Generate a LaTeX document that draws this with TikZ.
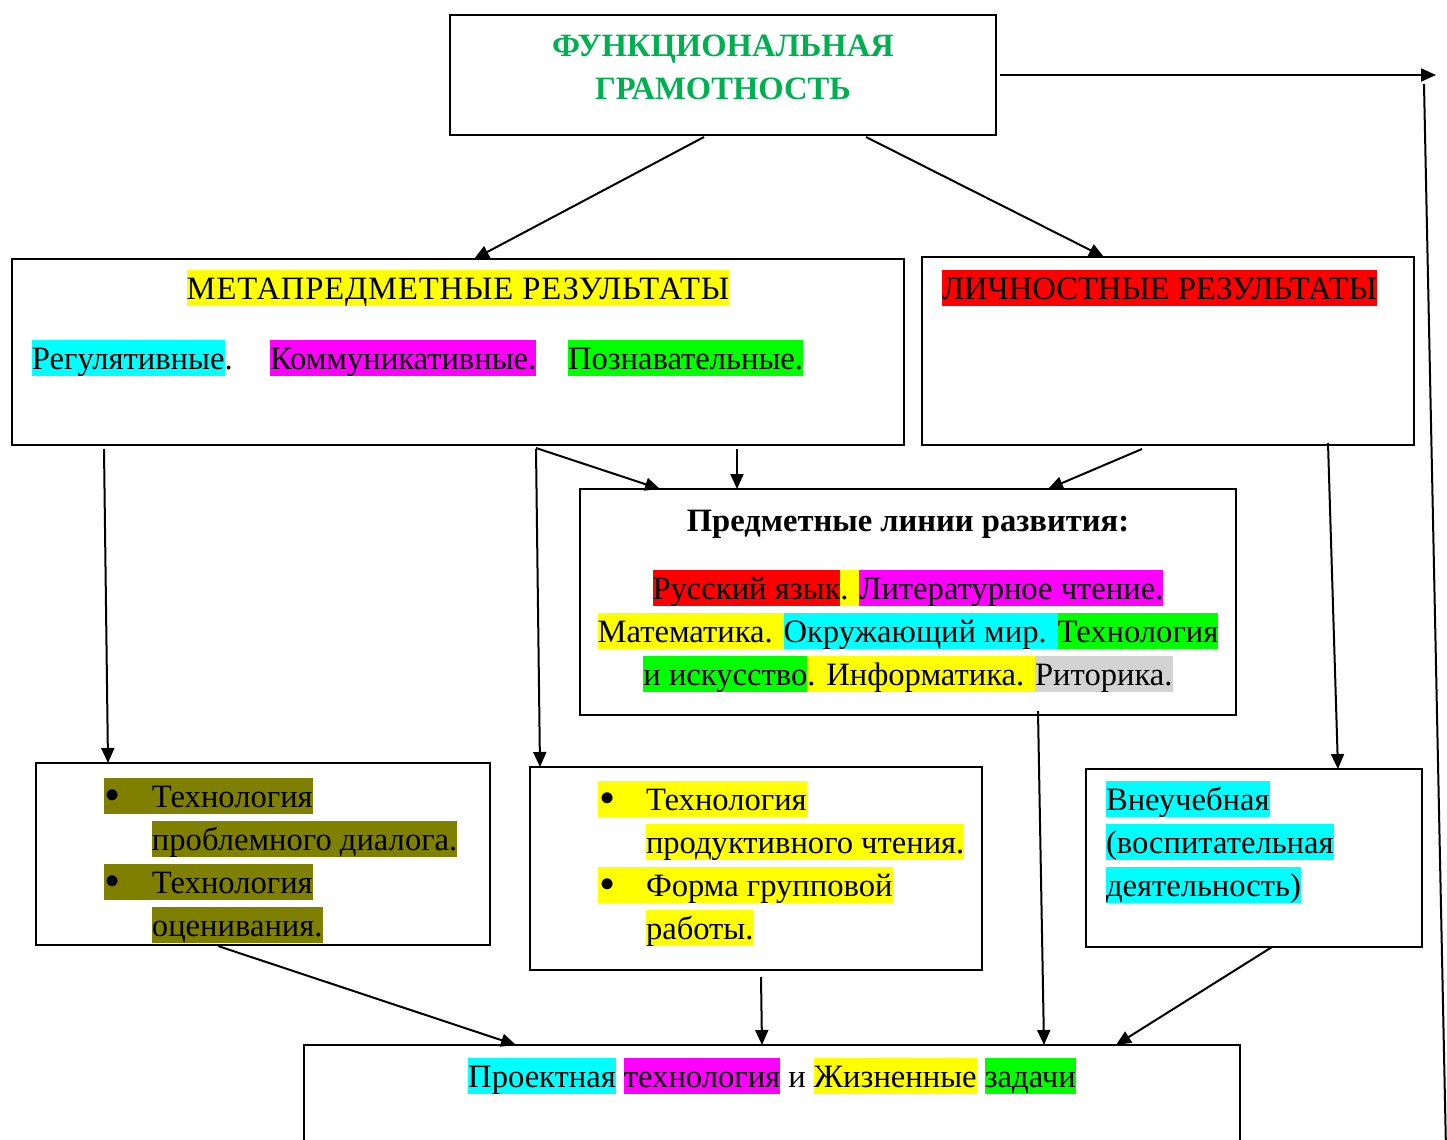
\documentclass[tikz,border=0pt]{standalone}
\usepackage{fontspec}
\setmainfont{Liberation Serif}
\usepackage{tikz}
\usetikzlibrary{arrows.meta,calc}

\definecolor{hlyellow}{RGB}{255,255,0}
\definecolor{hlcyan}{RGB}{0,255,255}
\definecolor{hlmagenta}{RGB}{255,0,255}
\definecolor{hlgreen}{RGB}{0,255,0}
\definecolor{hlred}{RGB}{255,0,0}
\definecolor{hlolive}{RGB}{128,128,0}
\definecolor{hlgray}{RGB}{211,211,211}
\definecolor{titlegreen}{RGB}{0,176,80}

\newcommand\bodyfont{\fontsize{16.3}{21.5}\selectfont}
\newcommand\tstrut{\rule[-0.216em]{0pt}{1.107em}}
\newcommand\hlbox[2]{{\setlength{\fboxsep}{0pt}\colorbox{#1}{\tstrut#2}}}
\newcommand\bul{\makebox[24pt][l]{\hspace{0.5pt}{\fontsize{23}{23}\selectfont\raisebox{-1.8pt}{•}}}}

\tikzset{
    blockbox/.style = {
        rectangle,
        draw=black,
        line width=1pt,
        inner sep=0pt,
        outer sep=0pt
    },
    textnode/.style = {
        inner sep=0pt,
        outer sep=0pt,
        font=\bodyfont
    },
    linkarrow/.style = {
        line width=1pt,
        -{Triangle[length=7.5pt,width=6.5pt]}
    }
}

\begin{document}
\begin{tikzpicture}[x=0.5pt, y=-0.5pt]
    \clip (0,0) rectangle (1447,1140);

    % boxes
    \node[blockbox, minimum width=273pt, minimum height=60pt] (func) at (723,75) {};
    \node[blockbox, minimum width=446pt, minimum height=93pt] (meta) at (458,352) {};
    \node[blockbox, minimum width=246pt, minimum height=94pt] (lich) at (1168,351) {};
    \node[blockbox, minimum width=328pt, minimum height=113pt] (pred) at (908,602) {};
    \node[blockbox, minimum width=227pt, minimum height=91pt] (techl) at (263,854) {};
    \node[blockbox, minimum width=226pt, minimum height=101.5pt] (techm) at (756,868.5) {};
    \node[blockbox, minimum width=168pt, minimum height=89pt] (vneuch) at (1254,858) {};
    \node[blockbox, minimum width=468pt, minimum height=57.5pt] (proj) at (772,1102.5) {};

    % texts
    \node[textnode, anchor=north, align=center, font={\bodyfont\bfseries}, text=titlegreen] (functext) at (723,27)
        {\tstrut ФУНКЦИОНАЛЬНАЯ\\\tstrut ГРАМОТНОСТЬ};
    \node[textnode, anchor=base, font={\bodyfont\addfontfeature{LetterSpace=2.7}}] (metatitle) at (458,299)
        {\hlbox{hlyellow}{МЕТАПРЕДМЕТНЫЕ РЕЗУЛЬТАТЫ}};
    \node[textnode, anchor=base west] (reg) at (32,369) {\hlbox{hlcyan}{Регулятивные}.};
    \node[textnode, anchor=base west] (comm) at (270,369) {\hlbox{hlmagenta}{Коммуникативные.}};
    \node[textnode, anchor=base west] (pozn) at (568,369) {\hlbox{hlgreen}{Познавательные.}};
    \node[textnode, anchor=base west] (lichtitle) at (942,299) {\hlbox{hlred}{ЛИЧНОСТНЫЕ РЕЗУЛЬТАТЫ}};
    \node[textnode, anchor=base, font={\bodyfont\bfseries}] (predtitle) at (908,531) {Предметные линии развития:};
    \node[textnode, anchor=north, align=center] (predlist) at (908,570)
        {\hlbox{hlred}{Русский язык}\hlbox{hlyellow}{. }\hlbox{hlmagenta}{Литературное чтение.}\\
         \hlbox{hlyellow}{Математика. }\hlbox{hlcyan}{Окружающий мир. }\hlbox{hlgreen}{Технология}\\
         \hlbox{hlgreen}{и искусство}\hlbox{hlyellow}{. Информатика. }\hlbox{hlgray}{Риторика.}};
    \node[textnode, anchor=north west, align=left] (techltext) at (104,778)
        {\hlbox{hlolive}{\bul Технология}\\
         \hspace*{24pt}\hlbox{hlolive}{проблемного диалога.}\\
         \hlbox{hlolive}{\bul Технология}\\
         \hspace*{24pt}\hlbox{hlolive}{оценивания.}};
    \node[textnode, anchor=north west, align=left] (techmtext) at (598,781)
        {\hlbox{hlyellow}{\bul Технология}\\
         \hspace*{24pt}\hlbox{hlyellow}{продуктивного чтения.}\\
         \hlbox{hlyellow}{\bul Форма групповой}\\
         \hspace*{24pt}\hlbox{hlyellow}{работы.}};
    \node[textnode, anchor=north west, align=left] (vneuchtext) at (1106,781)
        {\hlbox{hlcyan}{Внеучебная}\\
         \hlbox{hlcyan}{(воспитательная}\\
         \hlbox{hlcyan}{деятельность)}};
    \node[textnode, anchor=base] (projtext) at (772,1087)
        {\hlbox{hlcyan}{Проектная} \hlbox{hlmagenta}{технология} и \hlbox{hlyellow}{Жизненные} \hlbox{hlgreen}{задачи}};

    % connectors
    \coordinate (sideend) at (1436,75);
    \coordinate (risetop) at (1424,84);
    \coordinate (risebottom) at (1446,1150);
    \draw[linkarrow] ($(func.south)+(-19,2)$) -- ($(meta.north)+(16,0)$);
    \draw[linkarrow] ($(func.south)+(143,2)$) -- ($(lich.north)+(-64,0)$);
    \draw[linkarrow] ($(func.east)+(4,0)$) -- (sideend);
    \draw[line width=1pt] (risetop) -- (risebottom);
    \draw[linkarrow] ($(meta.south)+(-354,4)$) -- ($(techl.north)+(-155,0)$);
    \draw[linkarrow] ($(meta.south)+(78,4)$) -- ($(techm.north)+(-216,0)$);
    \draw[linkarrow] ($(meta.south)+(78,3)$) -- ($(pred.north)+(-248,0)$);
    \draw[linkarrow] ($(meta.south)+(279,4)$) -- ($(pred.north)+(-171,0)$);
    \draw[linkarrow] ($(lich.south)+(-26,4)$) -- ($(pred.north)+(140,0)$);
    \draw[linkarrow] ($(lich.south)+(160,-2)$) -- ($(vneuch.north)+(84,0)$);
    \draw[linkarrow] ($(pred.south)+(130,-4)$) -- ($(proj.north)+(272,0)$);
    \draw[linkarrow] ($(techl.south)+(-45,1)$) -- ($(proj.north)+(-256,0)$);
    \draw[linkarrow] ($(techm.south)+(5,7)$) -- ($(proj.north)+(-10,0)$);
    \draw[linkarrow] ($(vneuch.south)+(18,0)$) -- ($(proj.north)+(344,0)$);
\end{tikzpicture}
\end{document}
